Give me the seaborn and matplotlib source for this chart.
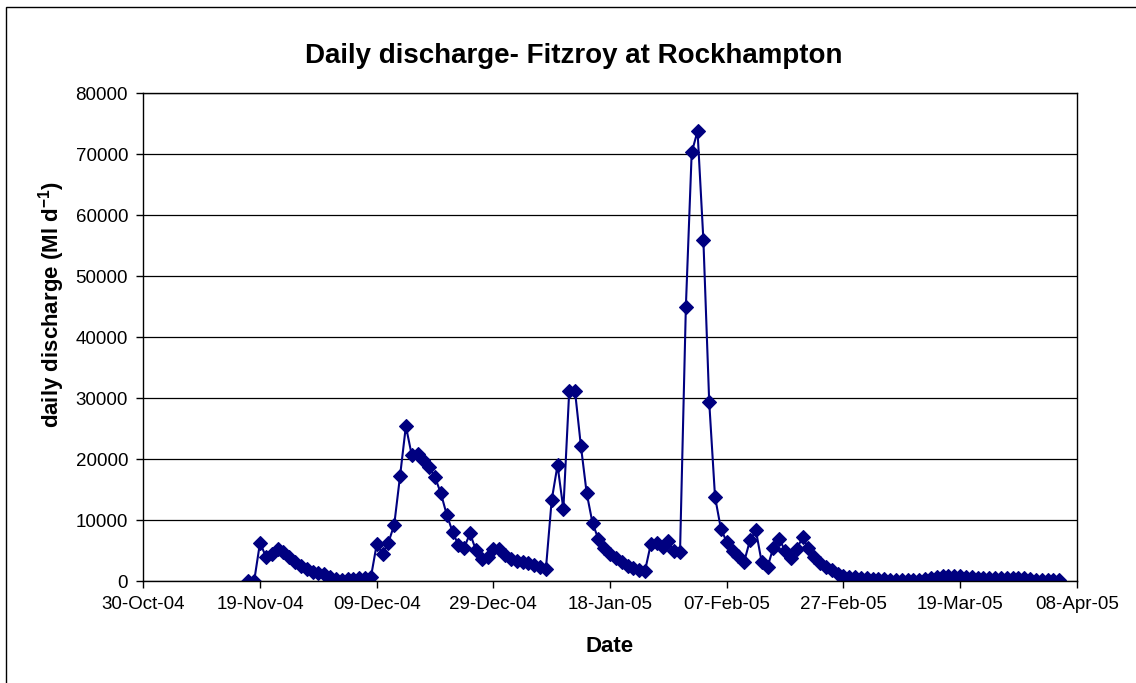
import matplotlib.pyplot as plt
import matplotlib.dates as mdates
from matplotlib.patches import Rectangle
import seaborn as sns
import pandas as pd

# daily discharge (Ml/d), one value per day from 17-Nov-04 to 05-Apr-05
nov = [50, 50, 6300, 4000, 4500, 5300, 4700, 3900, 3100, 2400, 1900, 1500, 1300, 1100]
dec = [700, 400, 200, 300, 400, 500, 500, 600, 6000, 4500, 6300, 9200, 17200, 25400,
       20700, 20800, 19900, 18700, 17000, 14400, 10900, 8100, 5900, 5500, 7800, 5100,
       3600, 4000, 5200, 5200, 4300]
jan = [3600, 3300, 3100, 2900, 2600, 2300, 1900, 13300, 19000, 11800, 31100, 31100,
       22200, 14400, 9500, 6900, 5500, 4500, 3800, 3100, 2500, 2100, 1800, 1700, 6100,
       6300, 5600, 6500, 4900, 4800, 45000]
feb = [70300, 73800, 56000, 29400, 13800, 8600, 6400, 5000, 4100, 3200, 6700, 8300,
       3100, 2300, 5500, 6900, 5000, 3700, 5200, 7200, 5400, 4000, 3000, 2300, 1800,
       1200, 800, 600]
mar = [600, 500, 450, 400, 350, 300, 250, 200, 200, 200, 200, 250, 300, 450, 600, 750,
       800, 800, 750, 650, 600, 550, 550, 550, 500, 500, 500, 500, 500, 450, 350]
apr = [250, 200, 200, 200, 200]
first_day = '2004-11-17'

tick_dates = ['2004-10-30', '2004-11-19', '2004-12-09', '2004-12-29', '2005-01-18',
              '2005-02-07', '2005-02-27', '2005-03-19', '2005-04-08']
y_ticks = [0, 10000, 20000, 30000, 40000, 50000, 60000, 70000, 80000]

discharge = nov + dec + jan + feb + mar + apr
df = pd.DataFrame({'date': pd.date_range(first_day, periods=len(discharge), freq='D'),
                   'discharge': discharge})

sns.set_style('white')
plt.rcParams['font.family'] = ['Liberation Sans', 'DejaVu Sans']
plt.rcParams['mathtext.fontset'] = 'custom'
plt.rcParams['mathtext.rm'] = 'Liberation Sans'
plt.rcParams['mathtext.bf'] = 'Liberation Sans:bold'
plt.rcParams['text.color'] = 'black'
plt.rcParams['axes.labelcolor'] = 'black'

navy = '#000080'
fig = plt.figure(figsize=(11.36, 6.83), dpi=100)
ax = fig.add_axes([0.1262, 0.1493, 0.8216, 0.714])

sns.lineplot(data=df, x='date', y='discharge', ax=ax, color=navy, linewidth=1.5,
             marker='D', markersize=7, markeredgecolor=navy, markeredgewidth=0.8)

ticks = pd.to_datetime(tick_dates)
ax.set_xlim(ticks[0], ticks[-1])
ax.set_xticks(ticks)
ax.xaxis.set_major_formatter(mdates.DateFormatter('%d-%b-%y'))
ax.set_ylim(0, 80000)
ax.set_yticks(y_ticks)

ax.yaxis.grid(True, color='black', linewidth=0.9)
ax.set_axisbelow(True)
for s in ax.spines.values():
    s.set_color('black')
    s.set_linewidth(1)
ax.tick_params(direction='out', length=5, width=1, labelsize=13.5, pad=6,
               bottom=True, left=True, colors='black')

ax.set_xlabel('Date', fontsize=16, fontweight='bold')
ax.xaxis.label.set_va('center')
ax.xaxis.set_label_coords(0.5, -0.135)
ax.set_ylabel(r'daily discharge (Ml d$^{\mathbf{-1}}$)', fontsize=16, fontweight='bold')
ax.yaxis.label.set_va('center')
ax.yaxis.set_label_coords(-0.098, 0.567)

fig.text(574 / 1136, 1 - 63 / 683, 'Daily discharge- Fitzroy at Rockhampton',
         ha='center', va='baseline', fontsize=20, fontweight='bold')

# chart area frame (only top/left edges fall inside the picture)
fig.add_artist(Rectangle((6 / 1136, -0.05), 1.2, 1 - 7 / 683 + 0.05,
                         transform=fig.transFigure, fill=False,
                         edgecolor='black', linewidth=1))

fig.savefig('out.png', dpi=100)
